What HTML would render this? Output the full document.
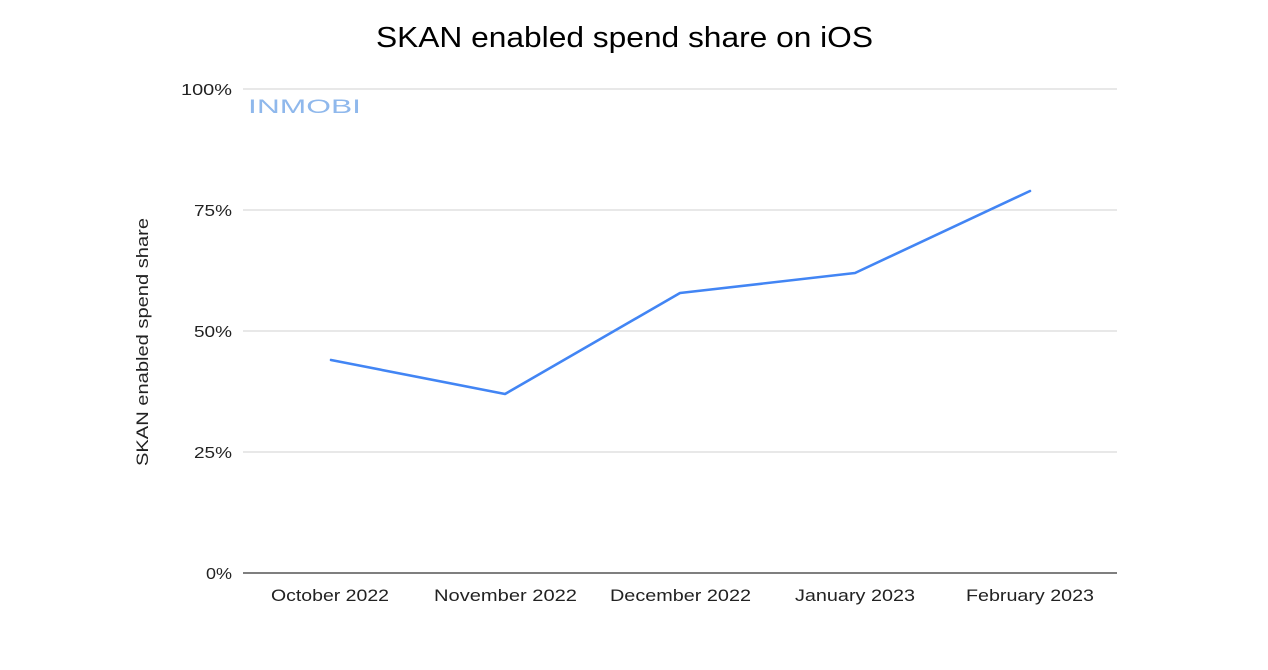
<!DOCTYPE html>
<html><head><meta charset="utf-8"><style>
html,body{margin:0;padding:0;background:#fff;}
svg{display:block;}
text{font-family:"Liberation Sans",Arial,sans-serif;}
</style></head><body>
<svg width="1268" height="670" viewBox="0 0 1268 670" xmlns="http://www.w3.org/2000/svg">
<rect width="1268" height="670" fill="#fff"/>
<text x="376" y="47" font-size="29" fill="#000" textLength="497" lengthAdjust="spacingAndGlyphs">SKAN enabled spend share on iOS</text>
<g stroke="#d9d9d9" stroke-width="1.3">
<line x1="243" y1="89" x2="1117" y2="89"/>
<line x1="243" y1="210" x2="1117" y2="210"/>
<line x1="243" y1="331" x2="1117" y2="331"/>
<line x1="243" y1="452" x2="1117" y2="452"/>
</g>
<line x1="243" y1="573" x2="1117" y2="573" stroke="#555" stroke-width="1.5"/>
<g font-size="16" fill="#222">
<text x="181" y="95" textLength="51" lengthAdjust="spacingAndGlyphs">100%</text>
<text x="194" y="216" textLength="38" lengthAdjust="spacingAndGlyphs">75%</text>
<text x="194" y="337" textLength="38" lengthAdjust="spacingAndGlyphs">50%</text>
<text x="194" y="458" textLength="38" lengthAdjust="spacingAndGlyphs">25%</text>
<text x="206" y="579" textLength="26" lengthAdjust="spacingAndGlyphs">0%</text>
</g>
<g font-size="17" fill="#222">
<text x="271" y="601" textLength="118" lengthAdjust="spacingAndGlyphs">October 2022</text>
<text x="434" y="601" textLength="143" lengthAdjust="spacingAndGlyphs">November 2022</text>
<text x="610" y="601" textLength="141" lengthAdjust="spacingAndGlyphs">December 2022</text>
<text x="795" y="601" textLength="120" lengthAdjust="spacingAndGlyphs">January 2023</text>
<text x="966" y="601" textLength="128" lengthAdjust="spacingAndGlyphs">February 2023</text>
</g>
<text transform="translate(148,466) rotate(-90)" font-size="17" fill="#222" textLength="248" lengthAdjust="spacingAndGlyphs">SKAN enabled spend share</text>
<text x="248" y="113" font-size="19" fill="#8fb8ec" textLength="113" lengthAdjust="spacingAndGlyphs">INMOBI</text>
<polyline points="331,360 505,394 680,293 855,273 1030,191" fill="none" stroke="#4285f4" stroke-width="2.6" stroke-linejoin="round" stroke-linecap="round"/>
</svg>
</body></html>
